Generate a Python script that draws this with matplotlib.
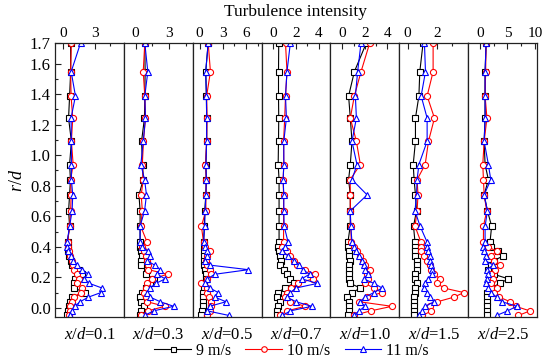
import matplotlib
matplotlib.use('Agg')
import matplotlib.pyplot as plt
from matplotlib.ticker import FixedLocator
from matplotlib.lines import Line2D

plt.rcParams['font.family'] = ['Liberation Serif', 'DejaVu Serif']
plt.rcParams['mathtext.fontset'] = 'custom'
plt.rcParams['mathtext.rm'] = 'Liberation Serif'
plt.rcParams['mathtext.it'] = 'Liberation Serif:italic'

# ---------------- data ----------------
Y_TOP = 1.735
r_d = [Y_TOP, 1.547, 1.388, 1.243, 1.091, 0.939, 0.84, 0.74, 0.635, 0.535,
       0.43, 0.40, 0.37, 0.34, 0.31, 0.28, 0.25, 0.22, 0.19, 0.16, 0.13,
       0.10, 0.07, 0.04, 0.01, -0.02, -0.05]

positions = ['0.1', '0.3', '0.5', '0.7', '1.0', '1.5', '2.5']
speeds = ['9 m/s', '10 m/s', '11 m/s']

# x/d = 0.1
p1_9 = [0.7, 0.7, 0.6, 0.5, 0.77, 0.6, 0.68, 0.6, 0.5, 0.6,
        0.4, 0.4, 0.45, 0.55, 0.7, 0.84, 1.48, 1.8, 1.16, 1.0, 1.0, 2.1, 0.84, 0.68, 0.52, 0.42, 0.35]
p1_10 = [0.77, 0.7, 0.74, 0.9, 0.77, 0.94, 0.7, 0.75, 0.7, 0.6,
         0.4, 0.4, 0.5, 0.6, 0.8, 0.9, 1.0, 1.32, 1.48, 1.3, 1.8, 1.65, 1.0, 0.84, 0.68, 0.6, 0.5]
p1_11 = [1.65, 0.75, 1.16, 0.74, 0.77, 0.77, 0.77, 0.9, 0.84, 0.6,
         0.36, 0.36, 0.4, 0.7, 0.9, 1.3, 1.8, 2.4, 2.0, 2.5, 3.7, 3.6, 2.4, 1.6, 1.1, 0.8, 0.6]
# x/d = 0.3
p2_9 = [0.82, 0.85, 0.82, 0.79, 0.53, 0.62, 0.68, 0.3, 0.4, 0.4,
        0.4, 0.4, 0.5, 0.6, 0.5, 0.44, 1.03, 0.9, 1.62, 1.3, 0.9, 0.6, 0.4, 0.44, 0.75, 0.5, 0.4]
p2_10 = [0.82, 0.68, 0.82, 0.88, 0.7, 0.6, 0.68, 0.5, 0.6, 0.45,
         1.03, 0.6, 0.75, 0.9, 1.03, 1.1, 1.15, 2.85, 1.5, 1.03, 0.9, 0.75, 0.9, 1.03, 2.6, 1.1, 0.5]
p2_11 = [0.82, 1.09, 0.82, 0.88, 0.68, 0.47, 0.8, 0.97, 0.8, 0.4,
         0.4, 0.6, 1.1, 1.3, 1.0, 1.7, 2.2, 1.9, 2.65, 1.8, 1.3, 1.0, 1.3, 2.2, 3.4, 1.6, 0.8]
# x/d = 0.5
p3_9 = [1.1, 0.78, 0.87, 0.9, 0.9, 0.8, 0.85, 0.8, 0.65, 0.6,
        0.5, 0.6, 0.6, 0.6, 0.6, 0.6, 0.65, 0.87, 0.87, 0.6, 0.5, 0.43, 0.43, 0.43, 0.43, 0.3, 0.2]
p3_10 = [1.1, 1.39, 0.9, 0.95, 0.9, 0.75, 0.87, 0.8, 0.8, 0.22,
         0.5, 0.7, 1.3, 1.0, 0.87, 1.0, 1.3, 1.5, 1.0, 0.2, 1.0, 0.9, 1.2, 1.5, 1.5, 1.3, 0.9]
p3_11 = [1.1, 0.78, 0.87, 0.9, 0.9, 0.8, 0.87, 0.8, 0.7, 0.65,
         0.5, 0.7, 0.9, 1.0, 0.7, 1.3, 6.3, 1.96, 1.0, 0.65, 1.3, 2.4, 1.96, 3.4, 1.3, 1.0, 3.8]
# x/d = 0.7
p4_9 = [0.47, 0.45, 0.45, 0.47, 0.45, 0.42, 0.5, 0.5, 0.5, 0.5,
        0.5, 0.4, 0.5, 0.6, 0.7, 0.6, 0.9, 1.2, 1.5, 1.8, 1.0, 0.4, 0.3, 0.6, 0.4, 0.3, 0.3]
p4_10 = [1.07, 1.2, 1.07, 1.0, 0.9, 0.92, 0.86, 0.9, 0.9, 0.9,
         0.9, 0.8, 1.2, 1.5, 1.8, 2.1, 2.8, 3.7, 3.5, 2.2, 1.6, 1.2, 1.0, 1.5, 2.8, 1.2, 0.6]
p4_11 = [1.5, 1.2, 1.07, 1.15, 0.92, 0.92, 0.86, 0.92, 0.92, 0.95,
         1.3, 1.0, 0.8, 1.3, 1.8, 2.3, 2.6, 3.2, 2.5, 3.9, 2.0, 1.5, 1.2, 2.0, 3.4, 1.5, 0.8]
# x/d = 1.0
p5_9 = [2.13, 1.07, 0.56, 0.71, 0.86, 0.71, 0.56, 0.71, 0.71, 0.7,
        0.5, 0.5, 0.56, 0.6, 0.7, 0.6, 0.56, 0.6, 0.56, 0.7, 1.6, 0.9, 0.4, 0.56, 0.56, 0.56, 0.5]
p5_10 = [2.43, 1.66, 1.07, 0.71, 1.25, 1.6, 0.7, 0.71, 0.71, 0.75,
         0.8, 1.0, 1.3, 1.6, 1.8, 2.0, 2.49, 2.2, 2.3, 2.0, 2.8, 3.5, 2.2, 1.5, 4.4, 2.5, 1.0]
p5_11 = [1.66, 1.36, 1.16, 1.25, 0.86, 1.3, 0.86, 2.2, 0.71, 0.75,
         0.86, 1.0, 1.2, 1.45, 1.75, 1.9, 2.0, 2.3, 1.9, 2.8, 3.53, 2.8, 2.0, 1.6, 2.0, 1.5, 1.0]
# x/d = 1.5
p6_9 = [1.04, 0.82, 0.76, 0.53, 0.53, 0.38, 0.44, 0.53, 0.6, 0.4,
        0.5, 0.53, 0.5, 0.53, 0.6, 0.64, 0.6, 0.5, 0.5, 0.6, 0.5, 0.5, 0.45, 0.42, 0.42, 0.42, 0.42]
p6_10 = [1.71, 1.71, 1.31, 1.8, 1.4, 1.18, 0.64, 0.7, 0.64, 0.5,
         0.9, 0.87, 0.9, 1.1, 1.3, 1.5, 1.6, 1.76, 2.2, 2.0, 2.42, 3.76, 3.1, 2.0, 1.5, 1.6, 1.0]
p6_11 = [1.13, 1.2, 0.91, 1.31, 1.31, 0.76, 0.64, 0.6, 0.5, 0.84,
         1.31, 1.27, 1.4, 1.53, 1.5, 1.6, 1.64, 1.64, 1.4, 1.2, 1.09, 1.3, 1.5, 1.76, 1.2, 1.0, 0.8]
# x/d = 2.5
p7_9 = [1.09, 0.9, 0.9, 0.9, 0.73, 0.9, 1.5, 0.73, 1.33, 2.1,
        1.8, 2.0, 3.33, 4.24, 2.5, 2.0, 1.5, 2.5, 5.15, 3.6, 2.0, 1.2, 1.2, 1.2, 1.2, 1.2, 1.2]
p7_10 = [1.09, 1.0, 0.9, 1.24, 0.73, 0.48, 0.6, 0.73, 1.2, 0.6,
         0.6, 1.5, 3.0, 2.0, 2.5, 3.6, 2.8, 2.0, 2.4, 2.0, 3.0, 2.5, 3.5, 5.5, 6.5, 9.1, 7.0]
p7_11 = [1.09, 0.9, 0.9, 0.9, 0.73, 1.5, 1.94, 0.73, 1.33, 0.9,
         0.9, 0.48, 0.7, 1.0, 0.91, 2.4, 1.2, 1.5, 1.2, 1.0, 1.5, 2.0, 3.0, 4.0, 6.7, 5.0, 3.0]

panel_data = [(p1_9, p1_10, p1_11), (p2_9, p2_10, p2_11), (p3_9, p3_10, p3_11),
              (p4_9, p4_10, p4_11), (p5_9, p5_10, p5_11), (p6_9, p6_10, p6_11),
              (p7_9, p7_10, p7_11)]

# axis ranges / ticks per panel
x_limits = [(-0.8, 5.8), (-1.05, 5.1), (-0.9, 8.0), (-1.05, 5.05),
            (-1.05, 5.05), (-0.55, 4.05), (-2.2, 10.4)]
x_major = [[0, 3], [0, 3], [0, 3, 6], [0, 2, 4], [0, 2, 4], [0, 2], [0, 5, 10]]
x_minor = [[1.5, 4.5], [1.5, 4.5], [1.5, 4.5, 7.5], [1, 3], [1, 3], [1, 3], [2.5, 7.5]]
y_ticks = [0.0, 0.2, 0.4, 0.6, 0.8, 1.0, 1.2, 1.4, 1.6, Y_TOP]
y_labels = ['0.0', '0.2', '0.4', '0.6', '0.8', '1.0', '1.2', '1.4', '1.6', '1.7']

colors = ['black', 'red', 'blue']
markers = ['s', 'o', '^']

# ---------------- figure ----------------
fig = plt.figure(figsize=(5.5, 3.6), dpi=100)
left, right, bottom, top = 55 / 550, 537 / 550, 1 - 317 / 360, 1 - 43 / 360
gs = fig.add_gridspec(1, 7, left=left, right=right, bottom=bottom, top=top, wspace=0)
axes = [fig.add_subplot(gs[0, i]) for i in range(7)]

edge = '#222222'
for i, ax in enumerate(axes):
    for s, c, m in zip(panel_data[i], colors, markers):
        ax.plot(s, r_d, color=c, marker=m, markersize=4.4 if m != 's' else 4.0,
                markerfacecolor='white', markeredgecolor=c, markeredgewidth=0.8,
                linewidth=0.8, clip_on=True)
    ax.set_xlim(*x_limits[i])
    ax.set_ylim(-0.06, Y_TOP)
    ax.xaxis.set_major_locator(FixedLocator(x_major[i]))
    ax.xaxis.set_minor_locator(FixedLocator(x_minor[i]))
    ax.xaxis.tick_top()
    ax.tick_params(axis='x', which='both', direction='in', top=True, bottom=False,
                   labeltop=True, labelbottom=False, labelsize=11, pad=2,
                   color=edge, width=0.8)
    ax.tick_params(axis='x', which='major', length=4)
    ax.tick_params(axis='x', which='minor', length=2.2)
    for sp in ax.spines.values():
        sp.set_color(edge)
        sp.set_linewidth(0.9)
    if i == 0:
        ax.yaxis.set_major_locator(FixedLocator(y_ticks))
        ax.set_yticklabels(y_labels)
        ax.yaxis.set_minor_locator(FixedLocator([0.1, 0.3, 0.5, 0.7, 0.9, 1.1, 1.3, 1.5]))
        ax.tick_params(axis='y', which='both', direction='in', left=True, right=False,
                       labelsize=12, color=edge, width=0.8, pad=3)
        ax.tick_params(axis='y', which='major', length=4)
        ax.tick_params(axis='y', which='minor', length=2.2)
        ax.set_ylabel(r'$\mathit{r/d}$', fontsize=13, labelpad=3)
    else:
        ax.tick_params(axis='y', which='both', left=False, right=False, labelleft=False)
    ax.set_xlabel(r'$\mathit{x/d}$=' + positions[i], fontsize=12, labelpad=7)

fig.text((left + right) / 2, 1 - 12 / 360, 'Turbulence intensity', ha='center',
         va='center', fontsize=12.5)

handles = [Line2D([0], [0], color=c, marker=m, markersize=4 if m != 's' else 3.6,
                  markerfacecolor='white', markeredgecolor=c, markeredgewidth=0.8,
                  linewidth=0.8) for c, m in zip(colors, markers)]
fig.legend(handles, speeds, loc='center', bbox_to_anchor=(0.53, 1 - 351 / 360),
           ncol=3, frameon=False, fontsize=11.5, handlelength=2.3, handletextpad=0.3,
           columnspacing=0.9, borderpad=0.1)

fig.savefig('out.png', dpi=100)
